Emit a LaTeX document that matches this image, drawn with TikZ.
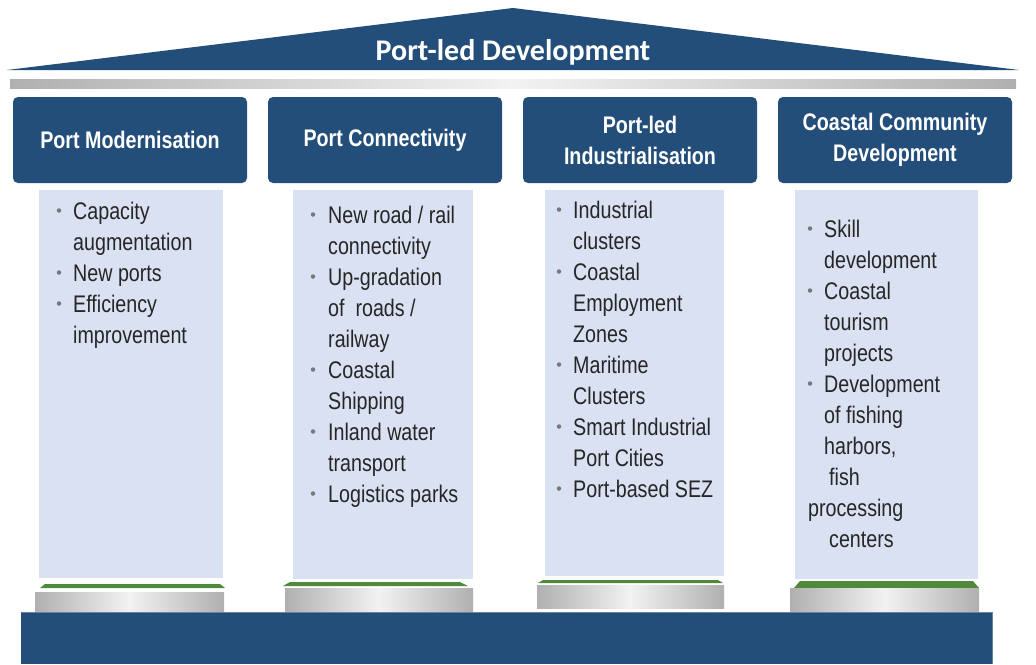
\documentclass[tikz,border=0pt]{standalone}
\usepackage{fontspec}
\setmainfont{Liberation Sans}[FakeStretch=0.82]
\newfontfamily\titlefont{Carlito}
\definecolor{navy}{RGB}{35,78,122}
\definecolor{panelblue}{RGB}{218,225,242}
\definecolor{bodytext}{RGB}{38,38,38}
\definecolor{dotgray}{RGB}{120,120,120}
\definecolor{grass}{RGB}{79,138,58}
\begin{document}
\begin{tikzpicture}[x=1pt,y=-1pt,
  header/.style={fill=navy, rounded corners=5pt, minimum width=234, minimum height=86,
    inner sep=0, text=white, align=center, font=\fontsize{24}{31}\selectfont\bfseries},
  panel/.style={fill=panelblue, inner sep=0},
  item/.style={anchor=base west, inner sep=0, text=bodytext, font=\fontsize{24}{31}\selectfont},
  dot/.style={circle, fill=dotgray, inner sep=0, minimum size=4.5pt},
  metal/.style={left color=gray!62, right color=gray!62, middle color=gray!10},
  strip/.style={fill=grass}]
\useasboundingbox (0,0) rectangle (1036,664);

% roof and architrave
\fill[navy] (7,70) -- (513,8) -- (1019,70) -- cycle;
\node[font=\titlefont\fontsize{30}{30}\selectfont\bfseries, text=white] (title) at (513,52) {Port-led Development};
\shade[metal] (10,79) rectangle (1016,88);

% column capitals
\node[header] (h1) at (130,140) {Port Modernisation};
\node[header] (h2) at (385,140) {Port Connectivity};
\node[header] (h3) at (640,140) {Port-led\\Industrialisation};
\node[header] (h4) at (895,140) {Coastal Community\\Development};

% column shafts
\node[panel, minimum width=184, minimum height=388] (p1) at (131,384) {};
\node[panel, minimum width=180, minimum height=389] (p2) at (383,384.5) {};
\node[panel, minimum width=179, minimum height=386] (p3) at (634.5,383) {};
\node[panel, minimum width=183, minimum height=389] (p4) at (886.5,384.5) {};

% column bases
\fill[strip] (45,584) -- (220,584) -- (225,588) -- (40,588) -- cycle;
\fill[strip] (290,582) -- (460,582) -- (468,586) -- (283,586) -- cycle;
\fill[strip] (543,580) -- (718,580) -- (723,583) -- (538,583) -- cycle;
\fill[strip] (800,581) -- (973,581) -- (979,588) -- (794,588) -- cycle;
\shade[metal] (35,592) rectangle (224,612);
\shade[metal] (285,588) rectangle (473,612);
\shade[metal] (537,585) rectangle (724,608);
\shade[metal] (790,588) rectangle (979,611);

% plinth
\fill[navy] (21,612) rectangle (992,664);
\draw[navy!70!white, line width=0.8pt] (21,612) -- (992,612) -- (992,664);

% bullet lists: x / baseline / text / bullet flag
\foreach \xx/\yy/\txt/\b [count=\i] in {
  73/219/Capacity/1, 73/250/augmentation/0, 73/281/New ports/1,
  73/312/Efficiency/1, 73/343/improvement/0}
{ \node[item] (a\i) at (\xx,\yy) {\txt};
  \ifnum\b=1 \node[dot] (ad\i) at (59,\yy-8.5) {}; \fi }

\foreach \xx/\yy/\txt/\b [count=\i] in {
  328/223/{New road / rail}/1, 328/254/connectivity/0, 328/285/Up-gradation/1,
  328/316/{of\ \ roads /}/0, 328/347/railway/0, 328/378/Coastal/1,
  328/409/Shipping/0, 328/440/{Inland\ water}/1, 328/471/transport/0,
  328/502/Logistics parks/1}
{ \node[item] (b\i) at (\xx,\yy) {\txt};
  \ifnum\b=1 \node[dot] (bd\i) at (313,\yy-8.5) {}; \fi }

\foreach \xx/\yy/\txt/\b [count=\i] in {
  573/218/Industrial/1, 573/249/clusters/0, 573/280/Coastal/1,
  573/311/Employment/0, 573/342/Zones/0, 573/373/Maritime/1,
  573/404/Clusters/0, 573/435/Smart Industrial/1, 573/466/Port Cities/0,
  573/497/{Port-based\ SEZ}/1}
{ \node[item] (c\i) at (\xx,\yy) {\txt};
  \ifnum\b=1 \node[dot] (cd\i) at (559,\yy-8.5) {}; \fi }

\foreach \xx/\yy/\txt/\b [count=\i] in {
  824/237/Skill/1, 824/268/development/0, 824/299/Coastal/1,
  824/330/tourism/0, 824/361/projects/0, 824/392/Development/1,
  824/423/of fishing/0, 824/454/{harbors,}/0, 829/485/fish/0,
  808/516/processing/0, 829/547/centers/0}
{ \node[item] (d\i) at (\xx,\yy) {\txt};
  \ifnum\b=1 \node[dot] (dd\i) at (810,\yy-8.5) {}; \fi }
\end{tikzpicture}
\end{document}
